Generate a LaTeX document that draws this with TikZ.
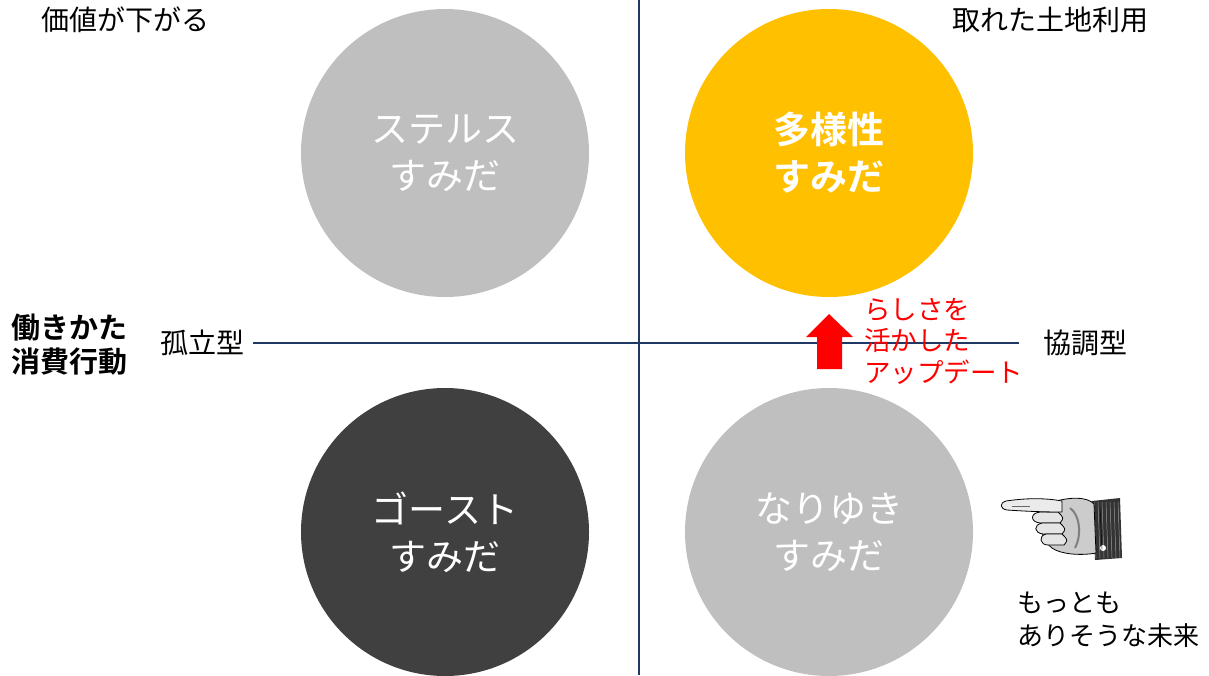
\documentclass[tikz,border=0pt]{standalone}
\usepackage{fontspec}
\setmainfont{Noto Sans CJK JP}[BoldFont={Noto Sans CJK JP Bold}]
\definecolor{axisblue}{HTML}{1F3864}
\definecolor{lightgrey}{HTML}{BFBFBF}
\definecolor{darkgrey}{HTML}{404040}
\definecolor{gold}{HTML}{FFC000}
\tikzset{
  quad/.style={circle, minimum size=288pt, inner sep=0pt, text=white,
    font=\fontsize{37}{47}\selectfont, align=center},
  axisline/.style={draw=axisblue, line width=2.6pt},
  lbl/.style={inner sep=0pt, font=\fontsize{28}{33}\selectfont, align=left},
  redlbl/.style={inner sep=0pt, text=red, font=\fontsize{26.5}{31.5}\selectfont, align=left},
}
\begin{document}
\begin{tikzpicture}[x=1pt,y=-1pt]
\path[use as bounding box, fill=white] (0,0) rectangle (1209,675);

% quadrant circles
\node[quad, fill=lightgrey] (stealth) at (445,153) {ステルス\\すみだ};
\node[quad, fill=gold, font=\bfseries\fontsize{37}{47}\selectfont] (diverse) at (829,153) {多様性\\すみだ};
\node[quad, fill=darkgrey] (ghost) at (445,532) {ゴースト\\すみだ};
\node[quad, fill=lightgrey] (drift) at (829,532) {なりゆき\\すみだ};

% axis labels
\node[lbl, anchor=west] (isolated) at (160,343) {孤立型};
\node[lbl, anchor=west] (coop) at (1043,343) {協調型};
\node[lbl, anchor=west, font=\bfseries\fontsize{29}{34}\selectfont] (axisname) at (11,345) {働きかた\\消費行動};
\node[lbl, anchor=west] (tl) at (41,20) {価値が下がる};
\node[lbl, anchor=west] (tr) at (952,20) {取れた土地利用};

% axes
\coordinate (ytop) at (639,0);
\coordinate (ybot) at (639,675);
\draw[axisline] (ytop) -- (ybot);
\draw[axisline] ([xshift=9pt]isolated.east) -- ([xshift=-24pt]coop.west);

% update arrow and its caption
\coordinate (arrowtip) at (829,314);
\fill[red] (arrowtip) -- (853,337) -- (842,337) -- (842,369) -- (817,369) -- (817,337) -- (806,337) -- cycle;
\node[redlbl, anchor=west] (update) at (864,341) {らしさを\\活かした\\アップデート};

% pointing hand
\begin{scope}[line join=round]
  % cuff
  \fill[black!80] (1092,501) -- (1120,498) -- (1122,558) -- (1095,560) -- cycle;
  \foreach \i in {0,4,...,24} \draw[white!60!black, line width=0.5pt] (1094+\i,502) -- (1096+\i,558);
  \fill[white] (1103,548) circle (3);
  \draw[black] (1100,508) -- (1102,550);
  % fist
  \draw[fill=black!20, line width=0.8pt] (1050,503) .. controls (1070,496) and (1088,497) .. (1094,504)
     -- (1096,553) .. controls (1080,556) and (1060,554) .. (1052,548)
     .. controls (1044,542) and (1040,532) .. (1042,520) -- cycle;
  % curled fingers
  \draw[fill=black!10, line width=0.8pt] (1040,512) .. controls (1030,513) and (1030,522) .. (1040,523) -- (1060,523) .. controls (1064,518) .. (1058,512) -- cycle;
  \draw[fill=black!10, line width=0.8pt] (1042,523) .. controls (1033,525) and (1034,533) .. (1043,534) -- (1062,534) .. controls (1066,529) .. (1060,523) -- cycle;
  \draw[fill=black!10, line width=0.8pt] (1046,534) .. controls (1038,536) and (1040,545) .. (1048,545) -- (1064,545) .. controls (1068,540) .. (1062,534) -- cycle;
  % index finger
  \draw[fill=black!8, line width=0.8pt] (1062,501) .. controls (1040,497) and (1020,499) .. (1006,501)
     .. controls (999,503) and (1000,509) .. (1007,510)
     .. controls (1022,511) and (1040,512) .. (1062,512) -- cycle;
  \draw[black!60] (1012,506) -- (1030,506);
  \draw[black!50, line width=2pt] (1070,508) .. controls (1080,515) and (1082,535) .. (1075,548);
\end{scope}
\node[inner sep=0pt, anchor=west, font=\fontsize{26}{33}\selectfont, align=left] (likely) at (1017,620) {もっとも\\ありそうな未来};
\end{tikzpicture}
\end{document}
